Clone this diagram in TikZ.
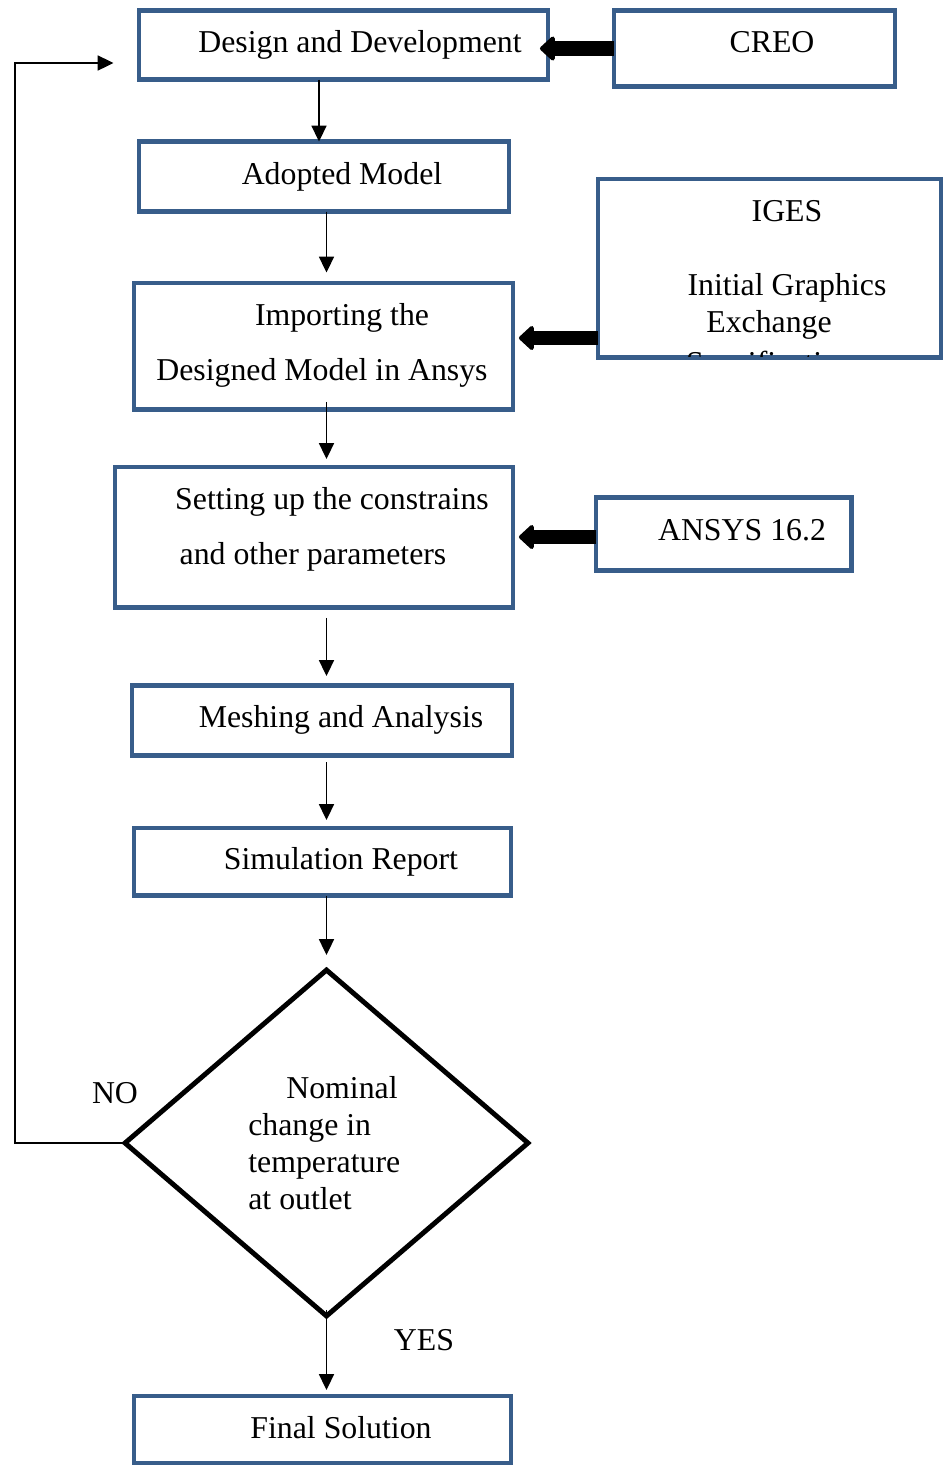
\documentclass[tikz,border=0pt]{standalone}
\usepackage{fontspec}
\setmainfont{Liberation Serif}
\usetikzlibrary{arrows.meta,shapes.geometric}
\definecolor{boxblue}{RGB}{56,93,138}
\tikzset{
  box/.style={draw=boxblue, line width=2.3pt, inner sep=0pt, outer sep=0pt},
  txt/.style={anchor=base, inner sep=0pt, font=\fontsize{18.1}{21}\selectfont},
  flow/.style={-{Triangle[length=9pt,width=8.5pt]}, line width=0.95pt},
  fat/.style={-{Triangle[length=9pt,width=16pt,round]}, line width=8pt},
  decision/.style={diamond, draw, line width=2.8pt, inner sep=0pt, outer sep=0pt,
    minimum width=8.06cm, minimum height=6.92cm}
}
\begin{document}
\begin{tikzpicture}[x=0.02cm, y=-0.02cm]
			\useasboundingbox (0,0) rectangle (943,1465);
			% boxes
			\node[box, minimum width=8.20cm, minimum height=1.38cm] (design) at (343.5,45) {};
			\node[box, minimum width=5.64cm, minimum height=1.52cm] (creo) at (754.5,48.5) {};
			\node[box, minimum width=7.42cm, minimum height=1.40cm] (adopted) at (324,176.5) {};
			\node[box, minimum width=6.88cm, minimum height=3.58cm] (iges) at (769.5,268) {};
			\node[box, minimum width=7.60cm, minimum height=2.54cm] (importing) at (323.5,346) {};
			\node[box, minimum width=7.98cm, minimum height=2.82cm] (setting) at (314,537) {};
			\node[box, minimum width=5.12cm, minimum height=1.46cm] (ansys) at (723.5,534) {};
			\node[box, minimum width=7.62cm, minimum height=1.40cm] (meshing) at (322,720.5) {};
			\node[box, minimum width=7.56cm, minimum height=1.36cm] (sim) at (322.5,861.5) {};
			\node[decision] (dia) at (326.5,1143) {};
			\node[box, minimum width=7.56cm, minimum height=1.36cm] (final) at (322.5,1429.5) {};
			% texts
			\node[txt] (designtxt) at (360,52) {Design and Development};
			\node[txt] (creotxt) at (772,52) {CREO};
			\node[txt] (adoptedtxt) at (342,184) {Adopted Model};
			\node[txt] (igestxt) at (787,221) {IGES};
			\node[txt] (igestxta) at (787,295) {Initial Graphics};
			\node[txt] (igestxtb) at (769,332) {Exchange};
			\begin{scope}
				\clip (599,179) rectangle (940,356);
				\node[txt] (igestxtc) at (770,373) {Specification};
			\end{scope}
			\node[txt] (importingtxta) at (342,325) {Importing the};
			\node[txt] (importingtxtb) at (322,380) {Designed Model in Ansys};
			\node[txt] (settingtxta) at (332,509) {Setting up the constrains};
			\node[txt] (settingtxtb) at (313,564) {and other parameters};
			\node[txt] (ansystxt) at (742,540) {ANSYS 16.2};
			\node[txt] (meshingtxt) at (341,727) {Meshing and Analysis};
			\node[txt] (simtxt) at (341,869) {Simulation Report};
			\node[txt, anchor=west, align=left] (diatxt) at (248,1143)
				{\hspace*{0.76cm}Nominal\\change in\\temperature\\at outlet};
			\node[txt] (finaltxt) at (341,1438) {Final Solution};
			\node[txt] (no) at (115,1103) {NO};
			\node[txt] (yes) at (424,1350) {YES};
			% input arrows
			\draw[fat, shorten >=-0.17cm] (creo.west) -- (design.east |- creo.west);
			\draw[fat] (iges.west |- 0,338) -- ([xshift=0.11cm]importing.east |- 0,338);
			\draw[fat] (ansys.west |- setting.east) -- ([xshift=0.11cm]setting.east);
			% flow
			\draw[flow] (design.south -| 319,0) -- (adopted.north -| 319,0);
			\draw[flow, shorten >=0.2cm] (adopted.south -| dia.north) -- (importing.north -| dia.north);
			\draw[flow, shorten <=-0.15cm, shorten >=0.15cm] (importing.south -| dia.north) -- (setting.north -| dia.north);
			\draw[flow, shorten <=0.21cm, shorten >=0.19cm] (setting.south -| dia.north) -- (meshing.north -| dia.north);
			\draw[flow, shorten <=0.13cm, shorten >=0.15cm] (meshing.south -| dia.north) -- (sim.north -| dia.north);
			\draw[flow, shorten >=0.3cm] (sim.south -| dia.north) -- (dia.north);
			\draw[flow, shorten <=-0.12cm, shorten >=0.11cm] (dia.south) -- (final.north -| dia.south);
			% back loop
			\coordinate (back) at (15,63);
			\draw[flow] (dia.west) -| (back) -- ([xshift=-0.5cm]design.west |- back);
		\end{tikzpicture}
\end{document}
